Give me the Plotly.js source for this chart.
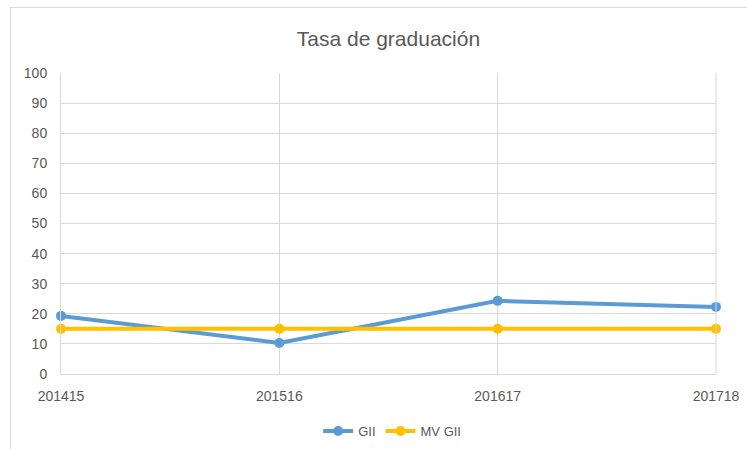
<!DOCTYPE html>
<html>
<head>
<meta charset="utf-8">
<script src="https://cdn.plot.ly/plotly-3.0.1.min.js"></script>
<style>
html,body{margin:0;padding:0;overflow:hidden;background:#fff;width:747px;height:449px;}
#frame{position:absolute;left:10px;top:7px;width:800px;height:500px;border:1px solid #d9d9d9;box-sizing:border-box;}
#chart{position:absolute;left:0;top:0;width:747px;height:449px;}
</style>
</head>
<body>
<div id="frame"></div>
<div id="chart"></div>
<script>
const categories = ["201415", "201516", "201617", "201718"];
const gii = [19.3, 10.3, 24.3, 22.3];
const mvGii = [15, 15, 15, 15];
const yTicks = [0, 10, 20, 30, 40, 50, 60, 70, 80, 90, 100];

const xIdx = categories.map((c, i) => i);
const font = {family: "Liberation Sans, Arial, sans-serif", color: "#595959"};

const traces = [
  {x: xIdx, y: gii, name: "GII", mode: "lines+markers", type: "scatter", cliponaxis: false,
   line: {color: "#5B9BD5", width: 4}, marker: {color: "#5B9BD5", size: 10}},
  {x: xIdx, y: mvGii, name: "MV GII", mode: "lines+markers", type: "scatter", cliponaxis: false,
   line: {color: "#FFC000", width: 4}, marker: {color: "#FFC000", size: 10}}
];

const layout = {
  width: 747, height: 449,
  margin: {l: 61, r: 31, t: 73, b: 75},
  paper_bgcolor: "rgba(0,0,0,0)", plot_bgcolor: "rgba(0,0,0,0)",
  font: font,
  title: {text: "Tasa de graduación", font: {family: font.family, size: 21, color: "#595959"},
          x: 0.52, xanchor: "center", y: 0.915, yanchor: "middle"},
  xaxis: {range: [0, 3], tickmode: "array", tickvals: xIdx, ticktext: categories,
          showgrid: true, gridcolor: "#d9d9d9", gridwidth: 1, zeroline: false,
          showline: true, linecolor: "#d9d9d9", mirror: false, ticks: "",
          ticklabelstandoff: 9, automargin: false,
          tickfont: {size: 14, color: "#595959"}, fixedrange: true},
  yaxis: {range: [0, 100], tickmode: "array", tickvals: yTicks,
          showgrid: true, gridcolor: "#d9d9d9", gridwidth: 1, zeroline: false,
          showline: true, linecolor: "#d9d9d9", ticks: "",
          ticklabelstandoff: 10, automargin: false,
          tickfont: {size: 14, color: "#595959"}, fixedrange: true},
  shapes: [{type: "line", xref: "paper", yref: "paper", x0: 1, x1: 1, y0: 0, y1: 1,
            line: {color: "#d9d9d9", width: 1}}],
  legend: {orientation: "h", xref: "container", yref: "container",
           x: 0.525, xanchor: "center", y: 0.04, yanchor: "middle",
           font: {size: 13, color: "#595959"}, itemwidth: 30, tracegroupgap: 0},
  showlegend: true
};

Plotly.newPlot("chart", traces, layout, {displayModeBar: false, staticPlot: true});
</script>
</body>
</html>
